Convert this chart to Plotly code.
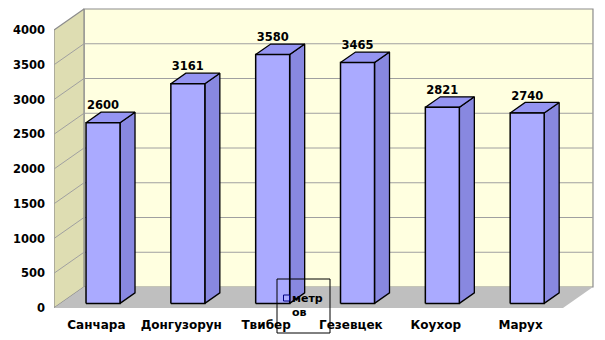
import plotly.graph_objects as go

categories = ["Санчара", "Донгузорун", "Твибер", "Гезевцек", "Коухор", "Марух"]
values = [2600, 3161, 3580, 3465, 2821, 2740]
series_name = "метр<br>ов"
y_ticks = [0, 500, 1000, 1500, 2000, 2500, 3000, 3500, 4000]

# geometry (pixels -> data units)
W, H = 605, 340
ML, MR, MT, MB = 54, 11, 6, 32
PX_X = 84.83          # px per category
PX_Y = 0.0695         # px per value unit
pw, ph = W - ML - MR, H - MT - MB
xr = [-0.5, -0.5 + pw / PX_X]
yr = [0, ph / PX_Y]
DX = 30 / PX_X        # full depth offset in x units
DY = 21 / PX_Y        # full depth offset in y units
F1, F2 = 0.22, 0.72   # bar front / back depth fractions
BW = 34 / PX_X        # bar width
YMAX = y_ticks[-1]
n = len(categories)
x0, x1 = -0.5, n - 0.5

def px_x(p):
    return (p - ML) / pw

def px_y(p):
    return (H - MB - p) / ph

fig = go.Figure()

def poly(xs, ys, fill, line_color=None, lw=0):
    fig.add_trace(go.Scatter(
        x=xs + [xs[0]], y=ys + [ys[0]], mode="lines", fill="toself",
        fillcolor=fill, line=dict(color=line_color or fill, width=lw),
        hoverinfo="skip", showlegend=False))

# back wall
poly([x0 + DX, x1 + DX, x1 + DX, x0 + DX], [DY, DY, YMAX + DY, YMAX + DY], "#FFFFE0", "#8C8C8C", 1.2)
# side wall
poly([x0, x0, x0 + DX, x0 + DX], [0, YMAX, YMAX + DY, DY], "#DEDDB2", "#8C8C8C", 1.2)
# floor
poly([x0, x1, x1 + DX, x0 + DX], [0, 0, DY, DY], "#BFBFBF")

# gridlines
gx, gy = [], []
for t in y_ticks[1:-1]:
    gx += [x0, x0 + DX, x1 + DX, None]
    gy += [t, t + DY, t + DY, None]
fig.add_trace(go.Scatter(x=gx, y=gy, mode="lines", line=dict(color="#A0A0A0", width=1),
                         hoverinfo="skip", showlegend=False))

# bars
for i, v in enumerate(values):
    xl = i - BW / 2 + F1 * DX
    xrr = i + BW / 2 + F1 * DX
    b1, b2 = F1 * DY, F2 * DY
    h = (F2 - F1) * DX
    poly([xrr, xrr, xrr + h, xrr + h], [b1, v + b1, v + b2, b2], "#8888E0", "black", 1.3)
    poly([xl, xrr, xrr + h, xl + h], [v + b1, v + b1, v + b2, v + b2], "#9595F2", "black", 1.3)
    poly([xl, xrr, xrr, xl], [b1, b1, v + b1, v + b1], "#AAAAFF", "black", 1.5)

# value labels
fig.add_trace(go.Scatter(
    x=[i + F1 * DX for i in range(n)], y=[v + F2 * DY for v in values],
    mode="text", text=[str(v) for v in values], textposition="top center",
    textfont=dict(family="DejaVu Sans", size=11.5, color="black", weight="bold"),
    hoverinfo="skip", showlegend=False))

# legend (box, key and text)
fig.add_shape(type="rect", xref="paper", yref="paper",
              x0=px_x(277), x1=px_x(330), y0=px_y(333), y1=px_y(279),
              line=dict(color="black", width=1), fillcolor="rgba(0,0,0,0)", layer="above")
fig.add_shape(type="rect", xref="paper", yref="paper",
              x0=px_x(283.5), x1=px_x(289.5), y0=px_y(301), y1=px_y(295),
              line=dict(color="#000080", width=1), fillcolor="#AAAAFF", layer="above")
fig.add_annotation(xref="paper", yref="paper", x=px_x(291), y=px_y(291),
                   xanchor="left", yanchor="top", align="left", showarrow=False,
                   text=series_name, borderpad=0,
                   font=dict(family="DejaVu Sans", size=11, color="black", weight="bold"))

fig.update_layout(
    width=W, height=H, margin=dict(l=ML, r=MR, t=MT, b=MB),
    paper_bgcolor="white", plot_bgcolor="rgba(0,0,0,0)",
    font=dict(family="DejaVu Sans", size=11, color="black"),
    showlegend=False,
    xaxis=dict(range=xr, tickmode="array", tickvals=list(range(n)), ticktext=categories,
               showgrid=False, zeroline=False, showline=False, ticks="",
               tickfont=dict(size=12, weight="bold"), ticklabelstandoff=8, fixedrange=True),
    yaxis=dict(range=yr, tickmode="array", tickvals=y_ticks, ticktext=[str(t) for t in y_ticks],
               showgrid=False, zeroline=False, showline=False, ticks="",
               tickfont=dict(size=11.5, weight="bold"), ticklabelstandoff=8, fixedrange=True),
)

fig.write_html("out.html")
